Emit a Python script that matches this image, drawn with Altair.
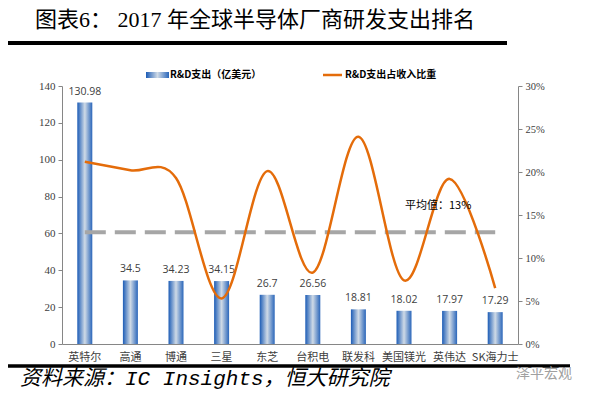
import altair as alt
import pandas as pd

companies = ["英特尔", "高通", "博通", "三星", "东芝", "台积电", "联发科", "美国镁光", "英伟达", "SK海力士"]
rd_spend = [130.98, 34.5, 34.23, 34.15, 26.7, 26.56, 18.81, 18.02, 17.97, 17.29]
rd_ratio = [0.212, 0.202, 0.193, 0.053, 0.201, 0.083, 0.241, 0.074, 0.192, 0.065]
avg_ratio = 0.13
avg_label = "平均值：13%"
left_ticks = [0, 20, 40, 60, 80, 100, 120, 140]
right_ticks = [0, 0.05, 0.10, 0.15, 0.20, 0.25, 0.30]
title_text = "图表6：  2017 年全球半导体厂商研发支出排名"
source_text = "资料来源：IC Insights，恒大研究院"
legend_bar = "R&D支出（亿美元）"
legend_line = "R&D支出占收入比重"
watermark = "泽平宏观"

df = pd.DataFrame({
    "company": companies,
    "spend": rd_spend,
    "ratio": rd_ratio,
    "label": [f"{v:g}" for v in rd_spend],
})
avg_df = pd.DataFrame({"company": [companies[0], companies[-1]], "ratio": [avg_ratio, avg_ratio]})
one = pd.DataFrame({"a": [0]})

AX = "#868686"
LBL = "#404040"
CJK = "Noto Sans CJK SC"
SERIF = "Liberation Serif, Noto Sans CJK SC"

xaxis = alt.Axis(labelAngle=0, ticks=False, domainColor=AX, labelFont=CJK,
                 labelFontSize=11, labelColor=LBL, labelPadding=7)
xscale = alt.Scale(paddingInner=0, paddingOuter=0)
xenc = alt.X("company:N", sort=companies, title=None, scale=xscale, axis=xaxis)

left_axis = alt.Axis(values=left_ticks, tickCount=8, grid=False, domainColor=AX, tickColor=AX,
                     tickSize=4, labelFont="Liberation Serif", labelFontSize=11,
                     labelColor=LBL, labelPadding=3, labelOverlap=False, labelBound=False)
right_axis = alt.Axis(orient="right", values=right_ticks, format=".0%", grid=False,
                      domainColor=AX, tickColor=AX, tickSize=4,
                      labelFont="Liberation Serif", labelFontSize=10.5,
                      labelColor=LBL, labelPadding=3, labelOverlap=False, labelBound=False)
left_y = alt.Y("spend:Q", title=None, scale=alt.Scale(domain=[0, 140]), axis=left_axis)
right_y = alt.Y("ratio:Q", title=None, scale=alt.Scale(domain=[0, 0.3]), axis=right_axis)

grad = alt.Gradient(
    gradient="linear",
    stops=[alt.GradientStop(color="#1c5cb6", offset=0),
           alt.GradientStop(color="#cfdae6", offset=0.5),
           alt.GradientStop(color="#2a66ba", offset=1)],
    x1=0, x2=1, y1=0, y2=0,
)

bars = alt.Chart(df).mark_bar(size=15, color=grad).encode(x=xenc, y=left_y)
bar_labels = alt.Chart(df).mark_text(baseline="bottom", dy=-6, fontSize=10.5,
                                     font="Open Sans", color=LBL).encode(
    x=xenc, y=left_y, text="label:N",
)
left = alt.layer(bars, bar_labels)

line = alt.Chart(df).mark_line(color="#e46c0a", strokeWidth=2.5, interpolate="cardinal").encode(
    x=xenc, y=right_y,
)
avg_line = alt.Chart(avg_df).mark_line(color="#a6a6a6", strokeWidth=4, strokeDash=[21, 9]).encode(
    x=xenc, y=right_y,
)
right = alt.layer(avg_line, line)


def txt(text, x, y, size, font=CJK, color="black", align="left", weight="normal", style="normal"):
    return alt.Chart(one).mark_text(align=align, baseline="middle", fontSize=size, font=font,
                                    color=color, fontWeight=weight, fontStyle=style).encode(
        x=alt.value(x), y=alt.value(y), text=alt.value(text))


def rule(x1, x2, y, w, color="black"):
    return alt.Chart(one).mark_rule(strokeWidth=w, color=color).encode(
        x=alt.value(x1), x2=alt.value(x2), y=alt.value(y))


decor = [
    txt(title_text, -27, -66, 22, font=SERIF),
    rule(-59, 445, -43, 4),
    alt.Chart(one).mark_rect(color=grad).encode(x=alt.value(84), x2=alt.value(107),
                                                y=alt.value(-14), y2=alt.value(-8)),
    txt(legend_bar, 108, -11, 10, weight="bold"),
    rule(261, 280, -11, 2.5, color="#e46c0a"),
    txt(legend_line, 283, -11, 10, weight="bold"),
    txt(avg_label, 343, 120, 11),
    rule(-59, 508, 280, 3.5),
    txt(source_text, -42, 293, 21, font="Liberation Mono, Noto Sans CJK SC", style="italic"),
    txt(watermark, 454, 288, 14, color="#a0a0a0"),
]

chart = alt.layer(left, right, *decor).resolve_scale(y="independent").properties(
    width=456, height=258,
    padding={"left": 54, "top": 78, "right": 63, "bottom": 46},
    autosize=alt.AutoSizeParams(type="none"),
).configure_view(stroke=None)

chart.save("out.html", embed_options={"renderer": "svg", "actions": False})
